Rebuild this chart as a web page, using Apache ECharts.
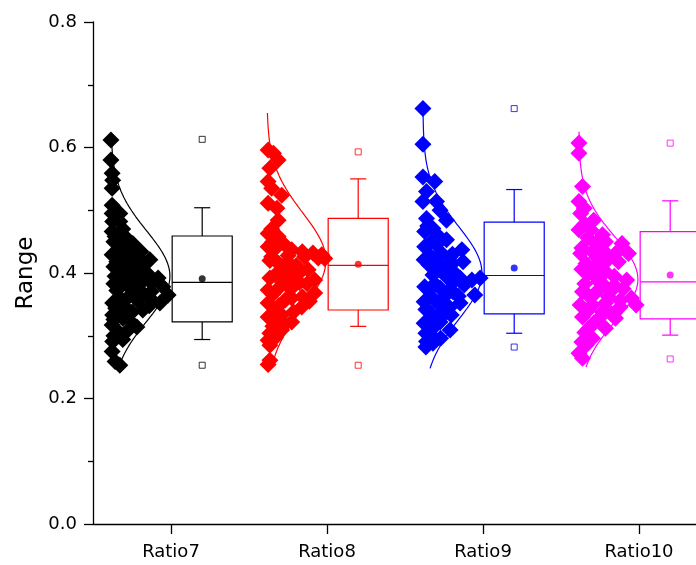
<!DOCTYPE html>
<html>
<head>
<meta charset="utf-8">
<script src="https://cdn.jsdelivr.net/npm/echarts@6/dist/echarts.min.js"></script>
<style>
  html, body { margin: 0; padding: 0; background: #fff; }
  #main { width: 696px; height: 565px; }
</style>
</head>
<body>
<div id="main"></div>
<script>
// 分类
const categories = ['Ratio7', 'Ratio8', 'Ratio9', 'Ratio10'];
const colors = ['#000000', '#ff0000', '#0000ff', '#ff00ff'];

// 原始数据点 (值) 和抖动 (0-1, 相对曲线峰宽)
const values7 = [0.612, 0.580, 0.559, 0.548, 0.535, 0.508, 0.495, 0.495, 0.482, 0.482, 0.470, 0.466, 0.458, 0.455, 0.447, 0.445, 0.440, 0.434, 0.434, 0.430, 0.429, 0.423, 0.421, 0.418, 0.415, 0.412, 0.408, 0.400, 0.400, 0.395, 0.392, 0.392, 0.387, 0.385, 0.380, 0.378, 0.375, 0.370, 0.368, 0.365, 0.360, 0.360, 0.352, 0.352, 0.346, 0.341, 0.338, 0.333, 0.328, 0.322, 0.317, 0.314, 0.304, 0.294, 0.291, 0.275, 0.259, 0.253,
  0.450, 0.443, 0.437, 0.426, 0.419, 0.410, 0.405, 0.403, 0.397, 0.390, 0.383, 0.381, 0.372, 0.366, 0.362, 0.356, 0.348, 0.344, 0.336, 0.326, 0.310, 0.300];
const jitter7 = [0, 0, 0.02, 0.03, 0.02, 0.02, 0.02, 0.15, 0.03, 0.15, 0.20, 0.02, 0.07, 0.27, 0.37, 0.14, 0.24, 0.51, 0.15, 0.34, 0.02, 0.49, 0.66, 0.10, 0.56, 0.41, 0.24, 0.20, 0.61, 0.07, 0.37, 0.80, 0.54, 0.68, 0.14, 0.88, 0.34, 0.68, 0.47, 0.97, 0.66, 0.15, 0.83, 0.03, 0.24, 0.54, 0.36, 0.03, 0.20, 0.34, 0.02, 0.44, 0.15, 0.20, 0.03, 0.02, 0.07, 0.15,
  0.05, 0.30, 0.42, 0.20, 0.32, 0.05, 0.50, 0.32, 0.45, 0.22, 0.05, 0.40, 0.10, 0.56, 0.30, 0.45, 0.65, 0.08, 0.20, 0.05, 0.30, 0.05];

const values8 = [0.596, 0.591, 0.580, 0.567, 0.546, 0.535, 0.524, 0.511, 0.503, 0.484, 0.463, 0.458, 0.450, 0.442, 0.437, 0.432, 0.429, 0.426, 0.428, 0.426, 0.424, 0.423, 0.415, 0.412, 0.405, 0.405, 0.397, 0.395, 0.389, 0.385, 0.381, 0.378, 0.373, 0.368, 0.362, 0.357, 0.352, 0.346, 0.340, 0.333, 0.330, 0.322, 0.315, 0.309, 0.304, 0.293, 0.261, 0.254,
  0.470, 0.447, 0.440, 0.434, 0.420, 0.418, 0.410, 0.400, 0.392, 0.390, 0.383, 0.375, 0.366, 0.360, 0.355, 0.348, 0.338, 0.326, 0.318, 0.298, 0.285];
const jitter8 = [0.02, 0.11, 0.19, 0.05, 0.02, 0.08, 0.25, 0.02, 0.17, 0.19, 0.02, 0.19, 0.10, 0.02, 0.42, 0.78, 0.93, 0.08, 0.36, 0.64, 0.87, 0.98, 0.20, 0.50, 0.42, 0.70, 0.14, 0.30, 0.81, 0.55, 0.47, 0.22, 0.02, 0.81, 0.60, 0.31, 0.02, 0.59, 0.15, 0.25, 0.02, 0.42, 0.10, 0.25, 0.05, 0.02, 0.05, 0.02,
  0.08, 0.28, 0.15, 0.60, 0.05, 0.35, 0.25, 0.55, 0.05, 0.38, 0.68, 0.40, 0.10, 0.42, 0.72, 0.20, 0.45, 0.12, 0.30, 0.15, 0.05];

const values9 = [0.662, 0.605, 0.553, 0.546, 0.530, 0.514, 0.514, 0.500, 0.487, 0.484, 0.471, 0.466, 0.453, 0.445, 0.442, 0.437, 0.430, 0.426, 0.421, 0.421, 0.418, 0.410, 0.402, 0.397, 0.392, 0.392, 0.389, 0.385, 0.378, 0.376, 0.370, 0.365, 0.360, 0.354, 0.352, 0.345, 0.338, 0.338, 0.330, 0.322, 0.320, 0.309, 0.300, 0.291, 0.288, 0.282,
  0.475, 0.460, 0.448, 0.433, 0.428, 0.415, 0.413, 0.405, 0.399, 0.394, 0.383, 0.381, 0.372, 0.368, 0.363, 0.357, 0.348, 0.342, 0.333, 0.326, 0.315, 0.304, 0.296];
const jitter9 = [0, 0, 0, 0.20, 0.06, 0, 0.23, 0.29, 0.06, 0.40, 0.17, 0.03, 0.40, 0.23, 0.03, 0.66, 0.50, 0.46, 0.02, 0.23, 0.68, 0.35, 0.40, 0.17, 0.63, 0.97, 0.83, 0.50, 0.03, 0.29, 0.51, 0.88, 0.34, 0.02, 0.63, 0.45, 0.12, 0.40, 0.25, 0.29, 0.02, 0.46, 0.15, 0.06, 0.17, 0.05,
  0.08, 0.25, 0.12, 0.30, 0.12, 0.50, 0.10, 0.25, 0.55, 0.40, 0.20, 0.70, 0.10, 0.40, 0.60, 0.20, 0.30, 0.05, 0.48, 0.15, 0.20, 0.05, 0.30];

const values10 = [0.607, 0.591, 0.538, 0.514, 0.503, 0.495, 0.484, 0.469, 0.469, 0.461, 0.450, 0.447, 0.447, 0.434, 0.431, 0.431, 0.431, 0.418, 0.415, 0.413, 0.402, 0.399, 0.389, 0.386, 0.380, 0.373, 0.370, 0.368, 0.360, 0.352, 0.349, 0.349, 0.349, 0.346, 0.330, 0.328, 0.328, 0.312, 0.312, 0.296, 0.272, 0.264,
  0.478, 0.456, 0.440, 0.437, 0.425, 0.422, 0.408, 0.406, 0.395, 0.392, 0.383, 0.378, 0.375, 0.365, 0.362, 0.356, 0.340, 0.338, 0.335, 0.320, 0.305, 0.290, 0.285];
const jitter10 = [0, 0, 0.06, 0, 0.09, 0.03, 0.25, 0, 0.20, 0.40, 0.45, 0.28, 0.73, 0.23, 0.03, 0.62, 0.84, 0.67, 0.12, 0.40, 0.45, 0.14, 0.81, 0.34, 0.60, 0.56, 0.06, 0.28, 0.89, 0.45, 0.97, 0.02, 0.23, 0.70, 0.06, 0.34, 0.62, 0.17, 0.45, 0.23, 0, 0.06,
  0.10, 0.15, 0.05, 0.40, 0.30, 0.50, 0.25, 0.05, 0.60, 0.30, 0.10, 0.45, 0.75, 0.15, 0.50, 0.70, 0.15, 0.40, 0.55, 0.25, 0.10, 0.05, 0.12];

// 箱线图: [下须, Q1, 中位数, Q3, 上须]
const boxStats = [
  [0.294, 0.322, 0.385, 0.459, 0.504],
  [0.315, 0.341, 0.412, 0.487, 0.550],
  [0.304, 0.335, 0.396, 0.481, 0.533],
  [0.301, 0.327, 0.386, 0.466, 0.515]
];
const means = [0.391, 0.414, 0.408, 0.397];
const mins = [0.253, 0.253, 0.282, 0.263];
const maxs = [0.613, 0.593, 0.662, 0.607];

// 正态曲线参数
const curveMu = [0.395, 0.420, 0.400, 0.390];
const curveSd = [0.072, 0.076, 0.074, 0.068];
const curveLo = [0.250, 0.250, 0.248, 0.250];
const curveHi = [0.620, 0.655, 0.665, 0.625];

const allValues = [values7, values8, values9, values10];
const allJitter = [jitter7, jitter8, jitter9, jitter10];

const BASE_OFF = -0.385;  // 散点基线相对组位置
const BOX_OFF = 0.2;      // 箱子中心相对组位置
const AMP = 0.378;        // 曲线峰宽
const BOX_W = 0.385;
const CAP_W = 0.103;

const chart = echarts.init(document.getElementById('main'));
const series = [];

allValues.forEach((vals, i) => {
  const g = i + 1;
  const base = g + BASE_OFF;
  series.push({
    type: 'scatter',
    xAxisIndex: 1,
    symbol: 'diamond',
    symbolSize: 17,
    itemStyle: { color: colors[i], opacity: 1 },
    data: vals.map((v, k) => [base + allJitter[i][k] * AMP, v]),
    z: 2
  });

  // 正态分布曲线
  const pts = [];
  for (let y = curveLo[i]; y <= curveHi[i] + 1e-9; y += 0.0025) {
    const z = (y - curveMu[i]) / curveSd[i];
    pts.push([base + AMP * Math.exp(-z * z / 2), y]);
  }
  series.push({
    type: 'line',
    xAxisIndex: 1,
    showSymbol: false,
    silent: true,
    lineStyle: { color: colors[i], width: 1.2 },
    data: pts,
    z: 3
  });
});

// 箱子
series.push({
  type: 'custom',
  xAxisIndex: 1,
  data: boxStats.map((s, i) => [i + 1 + BOX_OFF].concat(s).concat([i])),
  renderItem: function (params, api) {
    const x = api.value(0);
    const c = colors[api.value(6)];
    const p = (xx, yy) => api.coord([xx, yy]);
    const lo = p(x, api.value(1)), q1 = p(x, api.value(2)), md = p(x, api.value(3));
    const q3 = p(x, api.value(4)), hi = p(x, api.value(5));
    const xl = p(x - BOX_W / 2, 0)[0], xr = p(x + BOX_W / 2, 0)[0];
    const cl = p(x - CAP_W / 2, 0)[0], cr = p(x + CAP_W / 2, 0)[0];
    const st = { stroke: c, lineWidth: 1.2, fill: null };
    return {
      type: 'group',
      children: [
        { type: 'rect', shape: { x: xl, y: q3[1], width: xr - xl, height: q1[1] - q3[1] }, style: st },
        { type: 'line', shape: { x1: xl, y1: md[1], x2: xr, y2: md[1] }, style: st },
        { type: 'line', shape: { x1: lo[0], y1: q1[1], x2: lo[0], y2: lo[1] }, style: st },
        { type: 'line', shape: { x1: hi[0], y1: q3[1], x2: hi[0], y2: hi[1] }, style: st },
        { type: 'line', shape: { x1: cl, y1: lo[1], x2: cr, y2: lo[1] }, style: st },
        { type: 'line', shape: { x1: cl, y1: hi[1], x2: cr, y2: hi[1] }, style: st }
      ]
    };
  },
  z: 4
});

// 均值点 和 最小/最大值
means.forEach((m, i) => {
  series.push({
    type: 'scatter',
    xAxisIndex: 1,
    symbol: 'circle',
    symbolSize: 7,
    itemStyle: { color: colors[i] },
    data: [[i + 1 + BOX_OFF, m]],
    z: 5
  });
  series.push({
    type: 'scatter',
    xAxisIndex: 1,
    symbol: 'rect',
    symbolSize: 6,
    itemStyle: { color: '#fff', borderColor: colors[i], borderWidth: 1 },
    data: [[i + 1 + BOX_OFF, mins[i]], [i + 1 + BOX_OFF, maxs[i]]],
    z: 5
  });
});

const axisFont = { fontFamily: 'DejaVu Sans', fontSize: 18, color: '#000' };

chart.setOption({
  animation: false,
  backgroundColor: '#fff',
  grid: { left: 93, top: 22, width: 624, height: 502, containLabel: false, outerBoundsMode: 'none' },
  xAxis: [
    {
      type: 'category',
      data: categories,
      boundaryGap: true,
      axisLine: { show: true, lineStyle: { color: '#000', width: 1.3 } },
      axisTick: { show: true, alignWithLabel: true, interval: 0, length: 10, lineStyle: { color: '#000', width: 1.3 } },
      axisLabel: Object.assign({ margin: 19, interval: 0 }, axisFont),
      splitLine: { show: false }
    },
    {
      type: 'value',
      min: 0.5,
      max: 4.5,
      show: false,
      splitLine: { show: false }
    }
  ],
  yAxis: {
    type: 'value',
    min: 0,
    max: 0.8,
    interval: 0.2,
    name: 'Range',
    nameLocation: 'middle',
    nameGap: 54,
    nameTextStyle: { fontFamily: 'DejaVu Sans', fontSize: 23, color: '#000' },
    axisLine: { show: true, lineStyle: { color: '#000', width: 1.3 } },
    axisTick: { show: true, length: 9, lineStyle: { color: '#000', width: 1.3 } },
    minorTick: { show: true, splitNumber: 2, length: 5, lineStyle: { color: '#000', width: 1.3 } },
    axisLabel: Object.assign({ margin: 16, formatter: v => v.toFixed(1) }, axisFont),
    splitLine: { show: false }
  },
  series: series
});
</script>
</body>
</html>
